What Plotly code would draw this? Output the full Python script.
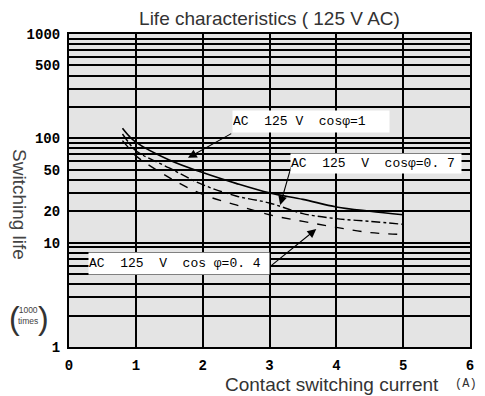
import numpy as np
import plotly.graph_objects as go

# curve data (current in A, life in 1000 operations)
current_pf10 = [0.8, 0.9, 1.0, 1.5, 2.0, 2.5, 3.0, 3.5, 4.0, 4.5, 5.0]
life_pf10 = [125, 105, 92, 62, 47, 37, 30, 26, 22, 20, 18.5]

current_pf07 = [0.8, 0.9, 1.0, 1.5, 2.0, 2.5, 3.0, 3.5, 4.0, 4.5, 5.0]
life_pf07 = [110, 90, 76, 52, 36, 28, 24, 19, 17, 16, 15]

current_pf04 = [0.8, 0.9, 1.0, 1.5, 2.0, 2.5, 3.0, 3.5, 4.0, 4.5, 5.0]
life_pf04 = [95, 80, 68, 42, 29, 23, 18.5, 16, 14, 12.5, 12]

x_ticks = [0, 1, 2, 3, 4, 5, 6]
y_ticks = [1, 10, 20, 50, 100, 500, 1000]
y_ticktext = ['1', '10', '20', '50', '100', '500', '1000']
y_grid = [m * 10 ** d for d in range(3) for m in range(1, 10)] + [1000]

labels = ['AC  125 V  cos\u03c6=1',
          'AC  125  V  cos\u03c6=0. 7',
          'AC  125  V  cos \u03c6=0. 4']

mono = 'Liberation Mono'
sans = 'Liberation Sans, Arial, sans-serif'

# the page body has an 8px margin, so the figure is drawn 8px smaller
OFF = 8
W, H = 485 - OFF, 396 - OFF
L, R, T, B = 61, 15, 26, 49
pw, ph = W - L - R, H - T - B


def px(x):
    # page pixel -> paper x
    return (x - OFF - L) / pw


def py(y):
    # page pixel -> paper y
    return (H - B - (y - OFF)) / ph


fig = go.Figure()
fig.add_trace(go.Scatter(x=current_pf10, y=life_pf10, mode='lines',
                         line=dict(color='black', width=1.6, shape='spline'),
                         showlegend=False))
fig.add_trace(go.Scatter(x=current_pf07, y=life_pf07, mode='lines',
                         line=dict(color='black', width=1.4, dash='dashdot', shape='spline'),
                         showlegend=False))
fig.add_trace(go.Scatter(x=current_pf04, y=life_pf04, mode='lines',
                         line=dict(color='black', width=1.4, dash='dash', shape='spline'),
                         showlegend=False))

# arrows (head -> tail), log axis uses log10 values
arrows = [
    (1.78, np.log10(65), 2.45, np.log10(113)),
    (3.16, np.log10(23), 3.34, 1.764),
    (3.70, np.log10(13.5), 2.98, 0.757),
]
for hx, hy, tx, ty in arrows:
    fig.add_annotation(x=hx, y=hy, ax=tx, ay=ty, xref='x', yref='y', axref='x', ayref='y',
                       text='', showarrow=True, arrowhead=2, arrowsize=1.6,
                       arrowwidth=1.1, arrowcolor='black')

# label boxes
boxes = [
    (2.44, 2.157, 156, 21),
    (3.31, 1.755, 170, 19),
    (0.28, 0.805, 180, 21),
]
for (bx, by, w, h), txt in zip(boxes, labels):
    fig.add_annotation(x=bx, y=by, xref='x', yref='y', xanchor='left', yanchor='middle',
                       text=txt, showarrow=False, width=w, height=h, align='left',
                       bgcolor='white', borderpad=0,
                       font=dict(family=mono, size=13, color='black'))


def note(x, y, text, size, family=sans, color='#333', **kw):
    fig.add_annotation(x=px(x), y=py(y), xref='paper', yref='paper', text=text,
                       showarrow=False, xanchor='center', yanchor='middle',
                       font=dict(family=family, size=size, color=color), **kw)


note(332, 384, 'Contact switching current', 19)
note(466, 384, '(A)', 12, family=mono)
note(19, 204, 'Switching life', 19, color='#444', textangle=90)
note(14, 318, '(', 32)
note(43, 318, ')', 32)
note(28, 315, '1000<br>times', 8.5, color='#444')

fig.update_layout(
    width=W, height=H,
    margin=dict(l=L, r=R, t=T, b=B, autoexpand=False),
    paper_bgcolor='white',
    plot_bgcolor='#e4e4e4',
    showlegend=False,
    title=dict(text='Life characteristics ( 125 V AC)', x=0.5, xref='paper',
               y=1 - (18 - OFF) / H, yref='container', yanchor='middle', xanchor='center',
               font=dict(family=sans, size=19, color='#333')),
    xaxis=dict(range=[0, 6], tickvals=x_ticks, showgrid=True, gridcolor='black', gridwidth=1.6,
               zeroline=False, showline=True, linecolor='black', linewidth=2, mirror=True,
               ticks='', ticklabelstandoff=4, automargin=False,
               tickfont=dict(family=mono, size=14, color='black', weight='bold')),
    yaxis=dict(type='log', range=[0, 3], tickvals=y_ticks, ticktext=y_ticktext,
               showgrid=True, gridcolor='black', gridwidth=1.6,
               minor=dict(tickvals=y_grid, showgrid=True, gridcolor='black', gridwidth=1.6),
               zeroline=False, showline=True, linecolor='black', linewidth=2, mirror=True,
               ticks='', ticklabelstandoff=4, automargin=False,
               tickfont=dict(family=mono, size=14, color='black', weight='bold')),
)

fig.write_html("out.html")
